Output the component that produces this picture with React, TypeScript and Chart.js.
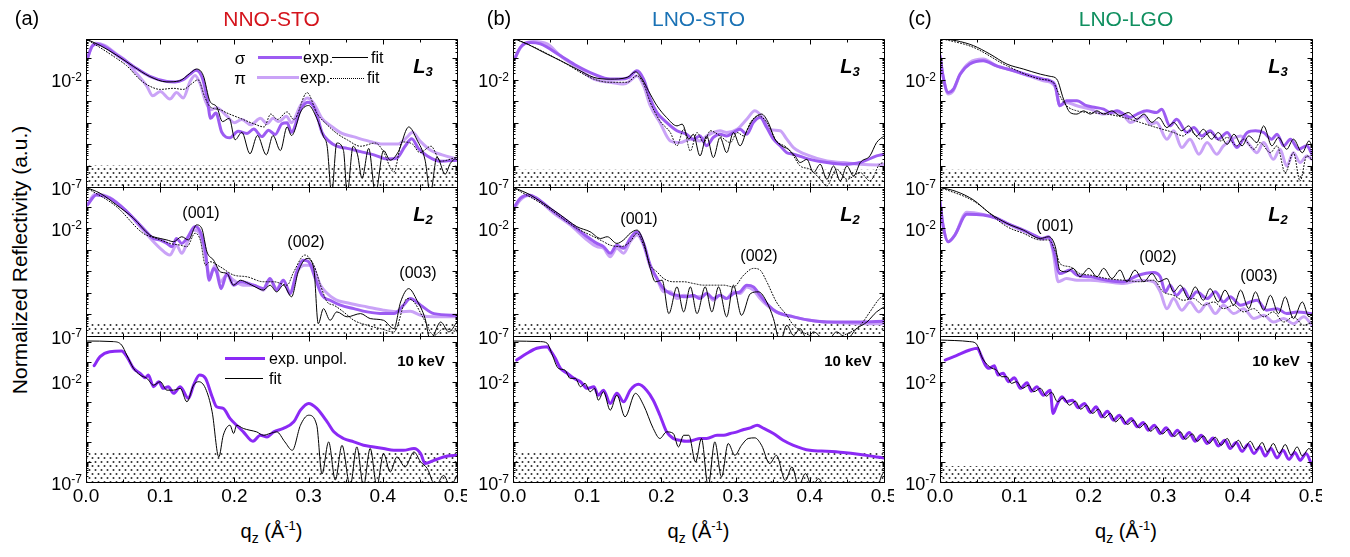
import React, { useEffect, useRef } from "react";
import { Chart, registerables } from "chart.js";

Chart.register(...registerables);

// Each point: [q_z (1/Å), log10(normalized reflectivity)]
type Pt = [number, number];

// ---------------- (a) NNO-STO ----------------
const nnoL3SigmaExp: Pt[] = [[0.002,-1.0],[0.008,-0.45],[0.015,-0.33],[0.025,-0.45],[0.041,-0.83],[0.064,-1.38],[0.086,-1.84],[0.109,-2.08],[0.12,-2.1],[0.131,-2.0],[0.14,-1.75],[0.148,-1.56],[0.156,-1.85],[0.163,-2.8],[0.168,-3.8],[0.175,-3.55],[0.183,-4.45],[0.194,-4.7],[0.205,-4.4],[0.217,-4.5],[0.226,-4.3],[0.237,-4.65],[0.246,-4.35],[0.255,-4.55],[0.264,-4.05],[0.271,-4.0],[0.277,-4.45],[0.289,-3.4],[0.299,-3.05],[0.309,-3.4],[0.318,-4.45],[0.327,-4.85],[0.338,-5.1],[0.352,-5.2],[0.37,-5.35],[0.388,-5.5],[0.406,-5.7],[0.419,-5.65],[0.43,-5.1],[0.439,-4.75],[0.448,-5.2],[0.46,-5.55],[0.478,-5.8],[0.5,-5.75]];
const nnoL3PiExp: Pt[] = [[0.002,-1.0],[0.008,-0.45],[0.013,-0.3],[0.025,-0.4],[0.041,-0.8],[0.055,-1.15],[0.064,-1.55],[0.073,-1.9],[0.082,-2.3],[0.09,-2.75],[0.1,-2.55],[0.113,-2.9],[0.122,-2.6],[0.131,-2.85],[0.14,-2.1],[0.147,-1.8],[0.154,-2.2],[0.161,-3.0],[0.168,-3.4],[0.176,-3.3],[0.19,-3.7],[0.2,-4.0],[0.21,-3.85],[0.222,-4.1],[0.235,-3.8],[0.244,-4.05],[0.252,-3.8],[0.26,-3.95],[0.27,-3.7],[0.277,-4.0],[0.289,-3.2],[0.298,-2.85],[0.307,-3.1],[0.318,-3.8],[0.33,-4.15],[0.345,-4.5],[0.36,-4.65],[0.38,-4.85],[0.4,-5.0],[0.42,-5.0],[0.432,-4.7],[0.44,-4.45],[0.45,-4.85],[0.465,-5.3],[0.48,-5.5],[0.5,-5.7]];
const nnoL3SigmaFit: Pt[] = [[0,-0.1],[0.019,-0.4],[0.041,-0.85],[0.064,-1.38],[0.086,-1.85],[0.109,-2.1],[0.126,-2.05],[0.14,-1.7],[0.149,-1.5],[0.158,-1.8],[0.167,-3.0],[0.176,-3.25],[0.184,-3.95],[0.193,-3.8],[0.201,-4.8],[0.21,-4.45],[0.221,-5.45],[0.231,-4.6],[0.243,-5.5],[0.252,-4.6],[0.262,-5.3],[0.271,-4.2],[0.277,-4.6],[0.29,-3.45],[0.3,-3.2],[0.311,-3.8],[0.32,-4.65],[0.325,-5.1],[0.331,-7.3],[0.338,-4.95],[0.347,-5.3],[0.352,-7.3],[0.36,-5.1],[0.366,-5.5],[0.372,-6.6],[0.381,-5.2],[0.39,-7.3],[0.401,-5.3],[0.41,-5.75],[0.421,-5.35],[0.435,-4.2],[0.446,-4.8],[0.457,-5.75],[0.464,-7.3],[0.473,-5.6],[0.484,-6.4],[0.491,-5.9],[0.5,-5.6]];
const nnoL3PiFit: Pt[] = [[0,-0.1],[0.019,-0.5],[0.041,-1.0],[0.055,-1.35],[0.073,-2.0],[0.086,-2.3],[0.1,-2.45],[0.118,-2.4],[0.131,-2.45],[0.142,-2.2],[0.151,-2.0],[0.16,-2.8],[0.167,-3.25],[0.181,-3.4],[0.19,-3.55],[0.208,-3.8],[0.226,-4.05],[0.24,-4.2],[0.249,-3.6],[0.258,-3.85],[0.271,-3.5],[0.28,-3.85],[0.298,-2.6],[0.311,-3.55],[0.325,-4.1],[0.338,-4.5],[0.352,-4.8],[0.37,-5.1],[0.39,-4.95],[0.4,-5.3],[0.415,-6.3],[0.426,-4.9],[0.44,-5.0],[0.45,-5.4],[0.465,-5.1],[0.478,-5.8],[0.5,-5.6]];

const nnoL2SigmaExp: Pt[] = [[0.002,-0.91],[0.014,-0.45],[0.032,-0.6],[0.055,-1.22],[0.077,-2.0],[0.091,-2.47],[0.1,-2.54],[0.109,-2.7],[0.116,-2.85],[0.122,-2.47],[0.129,-2.7],[0.136,-2.47],[0.147,-1.92],[0.154,-2.16],[0.161,-3.09],[0.166,-4.41],[0.172,-3.86],[0.176,-4.02],[0.182,-4.8],[0.19,-4.1],[0.199,-4.64],[0.208,-4.48],[0.226,-4.64],[0.239,-4.8],[0.248,-4.33],[0.257,-4.87],[0.266,-4.41],[0.275,-5.03],[0.284,-4.02],[0.293,-3.48],[0.3,-3.55],[0.309,-4.33],[0.318,-5.11],[0.329,-5.34],[0.343,-5.57],[0.361,-5.73],[0.379,-5.88],[0.401,-5.96],[0.415,-5.96],[0.428,-5.57],[0.437,-5.26],[0.451,-5.57],[0.469,-5.96],[0.5,-6.04]];
const nnoL2PiExp: Pt[] = [[0.002,-0.91],[0.012,-0.42],[0.032,-0.57],[0.055,-1.22],[0.077,-2.08],[0.1,-2.93],[0.113,-3.24],[0.122,-2.78],[0.129,-3.16],[0.136,-2.7],[0.145,-2.08],[0.154,-2.31],[0.161,-3.32],[0.167,-4.25],[0.174,-3.71],[0.181,-4.48],[0.19,-4.17],[0.199,-4.41],[0.212,-4.64],[0.226,-4.64],[0.239,-4.87],[0.248,-4.41],[0.257,-4.8],[0.266,-4.41],[0.275,-4.95],[0.286,-3.94],[0.295,-3.71],[0.304,-3.71],[0.316,-4.64],[0.334,-5.26],[0.356,-5.49],[0.379,-5.65],[0.401,-5.8],[0.424,-5.88],[0.437,-5.85],[0.451,-6.04],[0.469,-6.11],[0.5,-6.11]];
const nnoL2SigmaFit: Pt[] = [[0,-0.1],[0.019,-0.37],[0.041,-0.91],[0.064,-1.53],[0.086,-2.31],[0.1,-2.47],[0.109,-2.54],[0.118,-2.62],[0.129,-2.39],[0.138,-2.54],[0.149,-1.84],[0.156,-2.0],[0.163,-3.09],[0.172,-3.48],[0.181,-4.02],[0.19,-4.1],[0.199,-4.64],[0.208,-4.41],[0.219,-4.56],[0.228,-4.72],[0.239,-4.87],[0.248,-4.64],[0.257,-4.95],[0.266,-4.64],[0.277,-5.18],[0.286,-4.02],[0.298,-3.4],[0.307,-3.86],[0.313,-6.43],[0.32,-5.73],[0.329,-6.27],[0.338,-5.88],[0.352,-6.11],[0.37,-5.96],[0.383,-6.19],[0.401,-6.27],[0.415,-6.66],[0.424,-5.42],[0.435,-4.8],[0.446,-5.34],[0.457,-6.19],[0.464,-7.2],[0.478,-6.35],[0.489,-6.81],[0.5,-6.35]];
const nnoL2PiFit: Pt[] = [[0,-0.1],[0.041,-0.99],[0.077,-2.23],[0.095,-2.47],[0.113,-2.7],[0.127,-2.78],[0.136,-2.85],[0.147,-2.23],[0.154,-2.54],[0.161,-3.71],[0.167,-3.55],[0.181,-3.79],[0.199,-4.17],[0.217,-4.25],[0.239,-4.48],[0.253,-4.48],[0.271,-4.64],[0.28,-4.02],[0.295,-3.24],[0.307,-3.71],[0.316,-4.64],[0.325,-5.42],[0.334,-5.57],[0.347,-5.88],[0.361,-6.27],[0.379,-6.5],[0.397,-6.66],[0.415,-6.81],[0.433,-5.26],[0.442,-5.42],[0.455,-6.19],[0.469,-6.97],[0.482,-6.66],[0.5,-6.81]];

const nnoHardExp: Pt[] = [[0.011,-1.2],[0.019,-0.75],[0.032,-0.5],[0.048,-0.47],[0.055,-0.75],[0.064,-1.33],[0.073,-1.58],[0.08,-1.8],[0.084,-1.67],[0.091,-2.25],[0.098,-2.0],[0.104,-2.33],[0.111,-2.25],[0.118,-2.58],[0.127,-2.25],[0.138,-2.83],[0.145,-2.17],[0.153,-1.67],[0.161,-1.83],[0.17,-2.75],[0.176,-3.25],[0.185,-3.33],[0.194,-3.83],[0.203,-4.17],[0.212,-4.5],[0.225,-4.97],[0.235,-4.67],[0.244,-4.75],[0.253,-4.5],[0.266,-4.33],[0.28,-4.0],[0.289,-3.42],[0.3,-3.08],[0.311,-3.33],[0.325,-4.0],[0.334,-4.5],[0.347,-4.83],[0.361,-5.0],[0.374,-5.17],[0.388,-5.25],[0.401,-5.33],[0.415,-5.42],[0.428,-5.42],[0.442,-5.33],[0.451,-5.58],[0.457,-6.08],[0.469,-5.92],[0.487,-5.7],[0.5,-5.67]];
const nnoHardFit: Pt[] = [[0,0.03],[0.037,0],[0.048,-0.17],[0.055,-0.67],[0.064,-1.33],[0.073,-1.67],[0.082,-1.83],[0.091,-2.17],[0.1,-2.0],[0.109,-2.42],[0.118,-2.42],[0.127,-2.33],[0.136,-3.0],[0.145,-2.17],[0.152,-2.0],[0.161,-2.33],[0.17,-3.5],[0.179,-5.75],[0.185,-4.67],[0.194,-4.17],[0.199,-4.58],[0.203,-4.17],[0.212,-4.33],[0.221,-4.42],[0.23,-4.5],[0.239,-4.67],[0.248,-4.58],[0.257,-4.5],[0.268,-5.0],[0.278,-5.42],[0.289,-4.17],[0.3,-3.67],[0.311,-4.17],[0.318,-6.6],[0.327,-5.0],[0.336,-6.9],[0.345,-5.17],[0.356,-7.2],[0.365,-5.25],[0.374,-7.2],[0.383,-5.33],[0.392,-7.2],[0.401,-5.58],[0.41,-6.5],[0.419,-5.75],[0.43,-6.25],[0.442,-5.5],[0.451,-6.0],[0.46,-6.33],[0.471,-7.2],[0.482,-6.67],[0.491,-7.2],[0.5,-6.67]];

// ---------------- (b) LNO-STO ----------------
const lnoStoL3SigmaExp: Pt[] = [[0.002,-1.03],[0.01,-0.49],[0.023,-0.26],[0.037,-0.33],[0.064,-0.88],[0.086,-1.35],[0.109,-1.74],[0.131,-1.97],[0.145,-1.97],[0.156,-1.89],[0.167,-1.58],[0.176,-1.97],[0.185,-2.9],[0.194,-3.53],[0.207,-3.99],[0.221,-4.38],[0.234,-4.54],[0.243,-4.77],[0.252,-4.62],[0.261,-5.08],[0.27,-4.69],[0.279,-4.54],[0.288,-4.62],[0.297,-4.46],[0.306,-4.31],[0.315,-4.54],[0.324,-3.99],[0.333,-3.76],[0.342,-4.23],[0.351,-4.77],[0.36,-5.08],[0.369,-5.4],[0.378,-5.47],[0.4,-5.71],[0.423,-5.86],[0.445,-5.94],[0.468,-5.86],[0.49,-5.55],[0.5,-5.47]];
const lnoStoL3PiExp: Pt[] = [[0.002,-1.03],[0.014,-0.33],[0.028,-0.22],[0.046,-0.33],[0.064,-0.88],[0.086,-1.42],[0.109,-1.97],[0.131,-2.12],[0.149,-2.2],[0.158,-2.05],[0.167,-1.81],[0.176,-2.28],[0.185,-3.21],[0.198,-3.99],[0.212,-4.85],[0.225,-4.93],[0.239,-4.77],[0.252,-4.85],[0.261,-4.62],[0.27,-4.46],[0.279,-4.38],[0.288,-4.46],[0.302,-4.31],[0.315,-3.84],[0.326,-3.45],[0.338,-3.84],[0.346,-4.31],[0.36,-4.38],[0.369,-4.77],[0.378,-5.16],[0.4,-5.55],[0.423,-5.79],[0.445,-5.86],[0.468,-5.94],[0.49,-5.97],[0.5,-5.94]];
const lnoStoL3SigmaFit: Pt[] = [[0,-0.07],[0.019,-0.33],[0.041,-0.72],[0.064,-1.11],[0.086,-1.5],[0.109,-1.89],[0.131,-1.97],[0.154,-1.89],[0.165,-1.63],[0.174,-1.97],[0.185,-2.67],[0.194,-3.21],[0.207,-3.76],[0.221,-4.15],[0.228,-4.07],[0.237,-4.77],[0.243,-4.54],[0.252,-5.55],[0.261,-4.62],[0.27,-5.63],[0.279,-4.69],[0.288,-5.4],[0.297,-4.46],[0.306,-5.08],[0.315,-4.38],[0.324,-3.84],[0.335,-3.6],[0.344,-3.99],[0.353,-4.77],[0.362,-5.08],[0.371,-5.24],[0.38,-5.55],[0.387,-5.86],[0.396,-5.71],[0.405,-6.33],[0.414,-5.94],[0.423,-6.64],[0.432,-6.02],[0.441,-6.72],[0.45,-6.02],[0.459,-6.49],[0.468,-5.86],[0.481,-5.55],[0.49,-4.93],[0.5,-4.62]];
const lnoStoL3PiFit: Pt[] = [[0,-0.07],[0.019,-0.33],[0.064,-1.11],[0.109,-1.97],[0.131,-2.12],[0.154,-2.12],[0.167,-1.81],[0.176,-2.2],[0.185,-3.06],[0.198,-3.92],[0.212,-4.46],[0.221,-5.08],[0.23,-4.31],[0.239,-5.32],[0.248,-4.46],[0.257,-4.93],[0.266,-4.38],[0.279,-4.62],[0.293,-4.93],[0.302,-4.46],[0.311,-4.62],[0.32,-3.99],[0.331,-3.68],[0.342,-3.99],[0.355,-4.85],[0.369,-5.16],[0.378,-5.55],[0.387,-6.02],[0.4,-6.17],[0.414,-6.64],[0.423,-6.95],[0.436,-6.17],[0.45,-6.64],[0.468,-6.33],[0.481,-6.72],[0.494,-5.94],[0.5,-5.86]];

const lnoStoL2SigmaExp: Pt[] = [[0.002,-0.99],[0.01,-0.6],[0.021,-0.45],[0.032,-0.6],[0.055,-1.22],[0.077,-1.77],[0.1,-2.39],[0.113,-2.7],[0.122,-2.85],[0.131,-3.16],[0.14,-2.78],[0.149,-2.93],[0.158,-2.47],[0.167,-2.16],[0.176,-2.7],[0.185,-3.71],[0.194,-4.33],[0.203,-4.8],[0.212,-5.03],[0.221,-5.11],[0.234,-5.18],[0.243,-5.11],[0.252,-5.26],[0.261,-5.03],[0.27,-5.26],[0.279,-5.11],[0.288,-5.26],[0.297,-5.03],[0.306,-4.95],[0.315,-4.64],[0.324,-4.72],[0.333,-5.11],[0.342,-5.49],[0.355,-5.88],[0.378,-6.11],[0.4,-6.27],[0.423,-6.35],[0.445,-6.35],[0.468,-6.35],[0.5,-6.32]];
const lnoStoL2PiExp: Pt[] = [[0.002,-1.07],[0.01,-0.68],[0.021,-0.48],[0.032,-0.63],[0.055,-1.3],[0.077,-1.84],[0.1,-2.54],[0.113,-2.85],[0.122,-2.93],[0.131,-3.32],[0.14,-2.93],[0.149,-3.16],[0.158,-2.62],[0.167,-2.31],[0.176,-2.78],[0.185,-3.79],[0.194,-4.33],[0.203,-4.95],[0.212,-4.95],[0.221,-5.26],[0.23,-5.11],[0.243,-5.18],[0.252,-5.18],[0.261,-5.03],[0.27,-5.34],[0.279,-5.11],[0.288,-5.26],[0.297,-4.95],[0.306,-5.03],[0.315,-4.72],[0.324,-4.87],[0.333,-5.26],[0.342,-5.57],[0.355,-5.88],[0.378,-6.11],[0.4,-6.27],[0.423,-6.35],[0.445,-6.38],[0.468,-6.43],[0.5,-6.43]];
const lnoStoL2SigmaFit: Pt[] = [[0,-0.1],[0.019,-0.37],[0.041,-0.84],[0.064,-1.38],[0.086,-1.92],[0.104,-2.16],[0.118,-2.47],[0.127,-2.39],[0.14,-2.7],[0.149,-2.54],[0.158,-2.23],[0.167,-2.08],[0.176,-2.62],[0.185,-3.86],[0.192,-4.48],[0.201,-4.41],[0.21,-5.96],[0.221,-4.72],[0.23,-5.88],[0.239,-4.72],[0.248,-5.96],[0.259,-4.72],[0.268,-5.88],[0.277,-4.72],[0.288,-6.11],[0.297,-4.64],[0.308,-6.04],[0.32,-5.03],[0.331,-4.95],[0.342,-5.42],[0.351,-6.19],[0.36,-7.28],[0.369,-6.5],[0.378,-6.97],[0.387,-6.66],[0.396,-7.12],[0.405,-6.81],[0.423,-7.28],[0.436,-6.81],[0.45,-7.12],[0.463,-6.66],[0.477,-6.35],[0.49,-5.88],[0.5,-5.65]];
const lnoStoL2PiFit: Pt[] = [[0,-0.1],[0.041,-0.91],[0.086,-2.0],[0.109,-2.39],[0.122,-2.62],[0.131,-2.78],[0.145,-2.85],[0.158,-2.62],[0.167,-2.23],[0.176,-2.78],[0.185,-3.71],[0.194,-4.02],[0.203,-4.33],[0.216,-4.48],[0.23,-4.48],[0.243,-4.56],[0.257,-4.64],[0.27,-4.64],[0.284,-4.64],[0.297,-4.72],[0.311,-4.17],[0.324,-3.86],[0.333,-3.94],[0.342,-4.48],[0.355,-5.42],[0.369,-6.04],[0.378,-6.5],[0.4,-6.97],[0.423,-7.12],[0.445,-6.97],[0.468,-6.5],[0.481,-5.88],[0.494,-5.26],[0.5,-5.11]];

const lnoStoHardExp: Pt[] = [[0.005,-0.92],[0.019,-0.58],[0.032,-0.33],[0.046,-0.25],[0.05,-0.42],[0.057,-0.83],[0.064,-1.33],[0.073,-1.58],[0.082,-1.83],[0.091,-2.0],[0.1,-2.33],[0.109,-2.25],[0.115,-2.67],[0.122,-2.42],[0.131,-3.08],[0.14,-2.58],[0.149,-3.0],[0.158,-2.42],[0.169,-2.13],[0.18,-2.42],[0.189,-2.92],[0.198,-3.67],[0.207,-4.5],[0.216,-4.83],[0.225,-4.92],[0.234,-4.97],[0.243,-4.92],[0.252,-4.83],[0.261,-4.83],[0.275,-4.67],[0.284,-4.67],[0.293,-4.58],[0.302,-4.5],[0.311,-4.38],[0.32,-4.3],[0.329,-4.17],[0.338,-4.33],[0.351,-4.58],[0.364,-4.92],[0.378,-5.17],[0.4,-5.42],[0.423,-5.47],[0.445,-5.53],[0.468,-5.63],[0.49,-5.75],[0.5,-5.8]];
const lnoStoHardFit: Pt[] = [[0,0.03],[0.037,0],[0.046,-0.08],[0.053,-0.67],[0.061,-1.33],[0.07,-1.42],[0.077,-1.83],[0.084,-1.83],[0.091,-2.25],[0.097,-2.08],[0.104,-2.5],[0.11,-2.33],[0.115,-2.92],[0.122,-2.5],[0.131,-3.42],[0.14,-2.67],[0.151,-3.75],[0.165,-2.58],[0.176,-3.17],[0.189,-4.33],[0.198,-4.83],[0.207,-4.5],[0.216,-4.58],[0.223,-5.25],[0.23,-4.67],[0.237,-4.67],[0.246,-6.0],[0.254,-4.83],[0.263,-7.2],[0.272,-5.0],[0.281,-6.75],[0.29,-5.08],[0.299,-5.67],[0.308,-5.17],[0.317,-4.83],[0.326,-4.8],[0.335,-5.17],[0.346,-6.08],[0.355,-5.67],[0.367,-6.92],[0.376,-6.25],[0.385,-7.2],[0.394,-6.58],[0.403,-7.2],[0.412,-6.83],[0.421,-7.3],[0.49,-7.3],[0.497,-6.67],[0.5,-6.5]];

// ---------------- (c) LNO-LGO ----------------
const lnoLgoL3SigmaExp: Pt[] = [[0,-0.88],[0.004,-1.81],[0.011,-2.59],[0.018,-2.44],[0.027,-1.74],[0.04,-1.27],[0.058,-1.11],[0.076,-1.35],[0.099,-1.58],[0.121,-1.81],[0.139,-1.97],[0.148,-2.05],[0.155,-2.28],[0.161,-3.21],[0.17,-2.98],[0.184,-2.98],[0.197,-3.21],[0.209,-3.29],[0.22,-3.37],[0.229,-3.53],[0.238,-3.45],[0.247,-3.6],[0.256,-3.76],[0.265,-3.6],[0.278,-3.45],[0.291,-3.53],[0.298,-3.37],[0.309,-4.15],[0.318,-3.84],[0.332,-4.46],[0.341,-4.23],[0.352,-4.62],[0.363,-4.38],[0.374,-4.77],[0.386,-4.46],[0.399,-5.16],[0.413,-4.46],[0.424,-4.38],[0.435,-4.46],[0.446,-4.77],[0.453,-4.54],[0.462,-5.08],[0.471,-4.77],[0.482,-5.24],[0.493,-5.08],[0.5,-5.47]];
const lnoLgoL3PiExp: Pt[] = [[0,-0.88],[0.004,-1.81],[0.011,-2.67],[0.018,-2.51],[0.027,-1.74],[0.04,-1.19],[0.058,-1.03],[0.076,-1.35],[0.099,-1.58],[0.121,-1.84],[0.139,-2.05],[0.148,-2.12],[0.155,-2.36],[0.161,-3.21],[0.17,-3.06],[0.184,-3.21],[0.202,-3.37],[0.22,-3.6],[0.238,-3.53],[0.247,-3.68],[0.256,-3.99],[0.265,-3.84],[0.274,-3.68],[0.283,-4.07],[0.291,-3.99],[0.305,-4.77],[0.314,-4.38],[0.325,-5.16],[0.336,-4.77],[0.348,-5.47],[0.359,-4.93],[0.372,-5.47],[0.381,-5.08],[0.404,-4.62],[0.417,-5.08],[0.426,-5.4],[0.435,-4.93],[0.448,-5.71],[0.457,-5.24],[0.466,-6.02],[0.475,-5.4],[0.484,-5.86],[0.493,-5.55],[0.5,-5.71]];
const lnoLgoL3SigmaFit: Pt[] = [[0,-0.07],[0.022,-0.18],[0.045,-0.41],[0.067,-0.8],[0.09,-1.27],[0.112,-1.5],[0.135,-1.74],[0.148,-1.84],[0.157,-1.97],[0.166,-2.9],[0.175,-3.53],[0.184,-3.6],[0.193,-3.45],[0.202,-3.6],[0.211,-3.45],[0.22,-3.6],[0.231,-3.45],[0.242,-3.68],[0.253,-3.53],[0.265,-3.84],[0.274,-3.6],[0.285,-3.99],[0.294,-3.76],[0.305,-4.23],[0.314,-3.99],[0.325,-4.38],[0.334,-4.15],[0.345,-4.62],[0.354,-4.31],[0.365,-4.77],[0.374,-4.46],[0.386,-5.01],[0.395,-4.54],[0.406,-5.08],[0.415,-4.62],[0.426,-4.93],[0.435,-4.15],[0.446,-5.08],[0.455,-4.69],[0.466,-5.24],[0.475,-4.77],[0.487,-5.4],[0.496,-4.85],[0.5,-5.08]];
const lnoLgoL3PiFit: Pt[] = [[0,-0.07],[0.045,-0.49],[0.09,-1.35],[0.135,-1.97],[0.152,-2.12],[0.161,-2.75],[0.17,-3.21],[0.184,-3.45],[0.202,-3.53],[0.224,-3.6],[0.247,-3.76],[0.269,-3.99],[0.291,-4.23],[0.314,-4.46],[0.327,-4.62],[0.336,-4.38],[0.35,-4.77],[0.363,-4.46],[0.377,-4.85],[0.386,-4.69],[0.399,-5.08],[0.408,-4.77],[0.422,-5.24],[0.43,-4.93],[0.444,-5.4],[0.453,-5.08],[0.464,-6.33],[0.475,-5.4],[0.484,-6.72],[0.493,-5.55],[0.5,-5.71]];

const lnoLgoL2SigmaExp: Pt[] = [[0,-0.76],[0.004,-1.84],[0.011,-2.62],[0.02,-2.31],[0.036,-1.35],[0.058,-1.38],[0.076,-1.53],[0.09,-1.77],[0.112,-2.08],[0.126,-2.31],[0.137,-2.47],[0.146,-2.39],[0.152,-2.93],[0.161,-4.1],[0.175,-3.94],[0.184,-4.17],[0.202,-4.25],[0.224,-4.41],[0.247,-4.48],[0.265,-4.2],[0.287,-4.05],[0.296,-4.25],[0.303,-4.95],[0.309,-4.64],[0.318,-5.11],[0.327,-4.8],[0.336,-5.26],[0.345,-4.95],[0.359,-5.26],[0.37,-4.95],[0.381,-5.42],[0.39,-5.18],[0.404,-5.57],[0.417,-5.42],[0.426,-5.34],[0.439,-5.8],[0.453,-5.73],[0.466,-5.96],[0.48,-5.88],[0.5,-5.96]];
const lnoLgoL2PiExp: Pt[] = [[0,-0.76],[0.004,-1.84],[0.011,-2.62],[0.02,-2.31],[0.036,-1.25],[0.058,-1.35],[0.076,-1.53],[0.09,-1.77],[0.112,-2.12],[0.126,-2.31],[0.137,-2.5],[0.146,-2.44],[0.152,-3.09],[0.159,-4.48],[0.17,-4.33],[0.184,-4.41],[0.202,-4.41],[0.224,-4.48],[0.247,-4.56],[0.269,-4.41],[0.287,-4.48],[0.296,-4.95],[0.305,-5.73],[0.314,-5.26],[0.325,-5.8],[0.336,-5.42],[0.348,-5.88],[0.359,-5.49],[0.37,-5.96],[0.381,-5.57],[0.395,-5.96],[0.408,-5.73],[0.422,-6.19],[0.435,-6.04],[0.448,-6.35],[0.462,-6.19],[0.475,-6.43],[0.489,-6.11],[0.5,-6.5]];
const lnoLgoL2SigmaFit: Pt[] = [[0,-0.1],[0.022,-0.29],[0.045,-0.68],[0.067,-1.3],[0.09,-1.77],[0.112,-2.08],[0.135,-2.47],[0.146,-2.39],[0.155,-2.85],[0.161,-3.94],[0.17,-4.02],[0.179,-3.86],[0.188,-4.25],[0.2,-3.86],[0.211,-4.25],[0.22,-3.86],[0.231,-4.33],[0.242,-3.94],[0.251,-4.48],[0.262,-3.94],[0.274,-4.48],[0.285,-4.1],[0.294,-4.48],[0.305,-4.33],[0.314,-4.95],[0.323,-4.64],[0.334,-5.26],[0.343,-4.72],[0.354,-5.34],[0.363,-4.8],[0.374,-5.42],[0.383,-4.87],[0.395,-5.57],[0.404,-4.87],[0.415,-5.73],[0.424,-4.95],[0.435,-5.8],[0.444,-5.11],[0.455,-5.96],[0.464,-5.18],[0.475,-6.19],[0.487,-5.42],[0.496,-6.11],[0.5,-5.96]];
const lnoLgoL2PiFit: Pt[] = [[0,-0.1],[0.045,-0.73],[0.09,-1.92],[0.112,-2.23],[0.135,-2.54],[0.146,-2.54],[0.157,-3.24],[0.161,-3.63],[0.175,-3.79],[0.188,-4.1],[0.202,-4.17],[0.224,-4.33],[0.247,-4.41],[0.269,-4.48],[0.287,-4.41],[0.3,-4.95],[0.314,-5.11],[0.327,-5.34],[0.341,-5.26],[0.354,-5.57],[0.368,-5.42],[0.381,-5.73],[0.395,-5.57],[0.408,-5.88],[0.422,-5.73],[0.435,-6.11],[0.448,-5.88],[0.462,-6.35],[0.475,-6.11],[0.489,-6.5],[0.5,-6.35]];

const lnoLgoHardExp: Pt[] = [[0.007,-0.92],[0.022,-0.7],[0.04,-0.42],[0.05,-0.33],[0.055,-0.67],[0.061,-1.17],[0.066,-1.33],[0.073,-1.2],[0.078,-1.67],[0.085,-1.58],[0.092,-2.0],[0.1,-1.8],[0.108,-2.33],[0.117,-2.05],[0.123,-2.47],[0.13,-2.25],[0.139,-2.67],[0.148,-2.42],[0.152,-3.58],[0.157,-3.17],[0.164,-2.75],[0.17,-3.0],[0.178,-2.92],[0.186,-3.3],[0.194,-3.08],[0.202,-3.53],[0.21,-3.25],[0.217,-3.75],[0.225,-3.47],[0.233,-3.92],[0.241,-3.67],[0.249,-4.08],[0.257,-3.83],[0.265,-4.25],[0.273,-4.03],[0.28,-4.42],[0.288,-4.17],[0.296,-4.58],[0.304,-4.3],[0.312,-4.7],[0.319,-4.42],[0.327,-4.83],[0.335,-4.53],[0.343,-4.97],[0.351,-4.67],[0.359,-5.08],[0.367,-4.8],[0.374,-5.2],[0.383,-4.92],[0.39,-5.33],[0.398,-5.03],[0.406,-5.47],[0.414,-5.13],[0.422,-5.58],[0.43,-5.25],[0.437,-5.7],[0.445,-5.33],[0.453,-5.8],[0.461,-5.42],[0.469,-5.87],[0.477,-5.53],[0.484,-5.92],[0.492,-5.58],[0.499,-6.08]];
const lnoLgoHardFit: Pt[] = [[0,0.08],[0.04,0],[0.048,-0.08],[0.052,-0.33],[0.056,-0.75],[0.063,-1.13],[0.07,-1.33],[0.076,-1.42],[0.083,-1.75],[0.09,-1.75],[0.096,-2.08],[0.103,-2.0],[0.111,-2.33],[0.119,-2.17],[0.126,-2.5],[0.135,-2.33],[0.143,-2.72],[0.15,-2.53],[0.158,-3.0],[0.166,-2.8],[0.174,-3.17],[0.182,-2.97],[0.189,-3.37],[0.197,-3.17],[0.205,-3.58],[0.213,-3.37],[0.221,-3.8],[0.229,-3.58],[0.236,-4.0],[0.244,-3.75],[0.252,-4.13],[0.26,-3.92],[0.268,-4.3],[0.276,-4.08],[0.283,-4.47],[0.291,-4.25],[0.299,-4.6],[0.307,-4.37],[0.315,-4.73],[0.323,-4.5],[0.33,-4.87],[0.339,-4.6],[0.346,-4.97],[0.354,-4.7],[0.362,-5.07],[0.37,-4.77],[0.378,-5.17],[0.386,-4.83],[0.393,-5.25],[0.401,-4.92],[0.409,-5.33],[0.417,-4.97],[0.425,-5.4],[0.433,-5.03],[0.44,-5.5],[0.448,-5.08],[0.456,-5.58],[0.464,-5.13],[0.472,-5.67],[0.48,-5.25],[0.487,-5.7],[0.496,-5.33],[0.5,-5.5]];

// ---------------- axes / levels ----------------
const Q_MAJOR_TICKS = [0, 0.1, 0.2, 0.3, 0.4, 0.5];
const Q_MINOR_TICKS = [0.05, 0.15, 0.25, 0.35, 0.45];
const Q_TICK_LABELS = ["0.0", "0.1", "0.2", "0.3", "0.4", "0.5"];
const Y_LABEL_EXPONENTS = [-2, -7];
const Y_MIN_EXP = -7;
const ROW_MAX_EXP = [-0.1, -0.08, 0.28];
// upper edge (log10) of the dotted noise-floor band, per row
const NNO_NOISE_FLOOR = [-6.0, -6.4, -5.5];
const LNO_STO_NOISE_FLOOR = [-6.2, -6.4, -5.5];
const LNO_LGO_NOISE_FLOOR = [-6.2, -6.4, -6.2];

const SIGMA_COLOR = "#9d5cf2";
const PI_COLOR = "#caa3f7";
const UNPOL_COLOR = "#8b2af5";
const FONT = '"Liberation Sans", Arial, Helvetica, sans-serif';

const COL_LEFT = [86, 513, 940];
const COL_RIGHT = [457, 884, 1312];
const ROW_TOP = [39, 187, 336];
const ROW_BOTTOM = [187, 336, 482];

type Kind = "sigmaExp" | "piExp" | "sigmaFit" | "piFit" | "unpolExp" | "unpolFit";
interface Series { kind: Kind; data: Pt[] }
interface PanelSpec { col: number; row: number; floor: number; series: Series[] }

const PANELS: PanelSpec[] = [
  { col: 0, row: 0, floor: NNO_NOISE_FLOOR[0], series: [
    { kind: "piExp", data: nnoL3PiExp }, { kind: "sigmaExp", data: nnoL3SigmaExp },
    { kind: "piFit", data: nnoL3PiFit }, { kind: "sigmaFit", data: nnoL3SigmaFit }] },
  { col: 0, row: 1, floor: NNO_NOISE_FLOOR[1], series: [
    { kind: "piExp", data: nnoL2PiExp }, { kind: "sigmaExp", data: nnoL2SigmaExp },
    { kind: "piFit", data: nnoL2PiFit }, { kind: "sigmaFit", data: nnoL2SigmaFit }] },
  { col: 0, row: 2, floor: NNO_NOISE_FLOOR[2], series: [
    { kind: "unpolExp", data: nnoHardExp }, { kind: "unpolFit", data: nnoHardFit }] },
  { col: 1, row: 0, floor: LNO_STO_NOISE_FLOOR[0], series: [
    { kind: "piExp", data: lnoStoL3PiExp }, { kind: "sigmaExp", data: lnoStoL3SigmaExp },
    { kind: "piFit", data: lnoStoL3PiFit }, { kind: "sigmaFit", data: lnoStoL3SigmaFit }] },
  { col: 1, row: 1, floor: LNO_STO_NOISE_FLOOR[1], series: [
    { kind: "piExp", data: lnoStoL2PiExp }, { kind: "sigmaExp", data: lnoStoL2SigmaExp },
    { kind: "piFit", data: lnoStoL2PiFit }, { kind: "sigmaFit", data: lnoStoL2SigmaFit }] },
  { col: 1, row: 2, floor: LNO_STO_NOISE_FLOOR[2], series: [
    { kind: "unpolExp", data: lnoStoHardExp }, { kind: "unpolFit", data: lnoStoHardFit }] },
  { col: 2, row: 0, floor: LNO_LGO_NOISE_FLOOR[0], series: [
    { kind: "piExp", data: lnoLgoL3PiExp }, { kind: "sigmaExp", data: lnoLgoL3SigmaExp },
    { kind: "piFit", data: lnoLgoL3PiFit }, { kind: "sigmaFit", data: lnoLgoL3SigmaFit }] },
  { col: 2, row: 1, floor: LNO_LGO_NOISE_FLOOR[1], series: [
    { kind: "piExp", data: lnoLgoL2PiExp }, { kind: "sigmaExp", data: lnoLgoL2SigmaExp },
    { kind: "piFit", data: lnoLgoL2PiFit }, { kind: "sigmaFit", data: lnoLgoL2SigmaFit }] },
  { col: 2, row: 2, floor: LNO_LGO_NOISE_FLOOR[2], series: [
    { kind: "unpolExp", data: lnoLgoHardExp }, { kind: "unpolFit", data: lnoLgoHardFit }] },
];

const STYLE: Record<Kind, { color: string; width: number; dash: number[]; order: number }> = {
  piExp: { color: PI_COLOR, width: 3, dash: [], order: 5 },
  sigmaExp: { color: SIGMA_COLOR, width: 3, dash: [], order: 4 },
  unpolExp: { color: UNPOL_COLOR, width: 3, dash: [], order: 4 },
  piFit: { color: "#000000", width: 1, dash: [1, 2], order: 2 },
  sigmaFit: { color: "#000000", width: 1, dash: [], order: 1 },
  unpolFit: { color: "#000000", width: 1, dash: [], order: 1 },
};

function makeDotPattern(): CanvasPattern | string {
  const c = document.createElement("canvas");
  c.width = 6;
  c.height = 8;
  const g = c.getContext("2d");
  if (!g) return "rgba(0,0,0,0.3)";
  g.fillStyle = "#2e2e2e";
  g.beginPath();
  g.arc(1.5, 2, 1.0, 0, Math.PI * 2);
  g.fill();
  g.beginPath();
  g.arc(4.5, 6, 1.0, 0, Math.PI * 2);
  g.fill();
  return g.createPattern(c, "repeat") || "rgba(0,0,0,0.3)";
}

function makeAxesPlugin(showX: boolean) {
  return {
    id: "axesFrame",
    afterDatasetsDraw(chart: any) {
      const { ctx, chartArea: a, scales } = chart;
      const xs = scales.x;
      const ys = scales.y;
      const l = Math.round(a.left) + 0.5;
      const r = Math.round(a.right) + 0.5;
      const t = Math.round(a.top) + 0.5;
      const b = Math.round(a.bottom) + 0.5;
      ctx.save();
      ctx.strokeStyle = "#000";
      ctx.lineWidth = 1;
      ctx.setLineDash([]);
      ctx.beginPath();
      ctx.rect(l, t, r - l, b - t);
      const xTick = (q: number, len: number) => {
        const px = Math.round(xs.getPixelForValue(q)) + 0.5;
        ctx.moveTo(px, b); ctx.lineTo(px, b - len);
        ctx.moveTo(px, t); ctx.lineTo(px, t + len);
      };
      Q_MAJOR_TICKS.forEach((q) => xTick(q, 5));
      Q_MINOR_TICKS.forEach((q) => xTick(q, 3));
      const maxV = ys.max;
      const yTick = (v: number, len: number) => {
        const py = Math.round(ys.getPixelForValue(v)) + 0.5;
        ctx.moveTo(l, py); ctx.lineTo(l + len, py);
        ctx.moveTo(r, py); ctx.lineTo(r - len, py);
      };
      for (let e = Y_MIN_EXP; Math.pow(10, e) <= maxV; e++) {
        yTick(Math.pow(10, e), 5);
        for (let m = 2; m <= 9; m++) {
          const v = m * Math.pow(10, e);
          if (v < maxV) yTick(v, 2);
        }
      }
      ctx.stroke();

      ctx.fillStyle = "#000";
      for (const e of Y_LABEL_EXPONENTS) {
        const py = ys.getPixelForValue(Math.pow(10, e));
        const sup = String(e);
        ctx.font = `12px ${FONT}`;
        const sw = ctx.measureText(sup).width;
        const xEnd = a.left - 4;
        ctx.textAlign = "left";
        ctx.textBaseline = "alphabetic";
        ctx.fillText(sup, xEnd - sw, py + 1);
        ctx.font = `18px ${FONT}`;
        ctx.textAlign = "right";
        ctx.fillText("10", xEnd - sw, py + 7.5);
      }
      if (showX) {
        ctx.font = `19px ${FONT}`;
        ctx.textAlign = "center";
        ctx.textBaseline = "middle";
        Q_MAJOR_TICKS.forEach((q, i) => {
          ctx.fillText(Q_TICK_LABELS[i], xs.getPixelForValue(q), a.bottom + 15);
        });
      }
      ctx.restore();
    },
  };
}

function Panel({ spec }: { spec: PanelSpec }) {
  const ref = useRef<HTMLCanvasElement | null>(null);
  const L = COL_LEFT[spec.col];
  const R = COL_RIGHT[spec.col];
  const T = ROW_TOP[spec.row];
  const B = ROW_BOTTOM[spec.row];
  const bottomRow = spec.row === 2;
  const padL = 52, padR = 10, padT = 12, padB = bottomRow ? 34 : 12;
  const w = R - L + padL + padR;
  const h = B - T + padT + padB;

  useEffect(() => {
    const canvas = ref.current;
    if (!canvas) return;
    const toXY = (arr: Pt[]) => arr.map(([q, lg]) => ({ x: q, y: Math.pow(10, lg) }));
    const floorV = Math.pow(10, spec.floor);
    const datasets: any[] = [
      {
        data: [{ x: 0, y: floorV }, { x: 0.5, y: floorV }],
        fill: "start",
        backgroundColor: makeDotPattern(),
        borderWidth: 0,
        borderColor: "rgba(0,0,0,0)",
        pointRadius: 0,
        order: 10,
      },
      ...spec.series.map((s) => ({
        data: toXY(s.data),
        borderColor: STYLE[s.kind].color,
        borderWidth: STYLE[s.kind].width,
        borderDash: STYLE[s.kind].dash,
        order: STYLE[s.kind].order,
        fill: false,
        pointRadius: 0,
        cubicInterpolationMode: "monotone",
        borderJoinStyle: "round",
        borderCapStyle: "round",
      })),
    ];
    const chart = new Chart(canvas, {
      type: "line",
      data: { datasets },
      options: {
        responsive: false,
        animation: false,
        devicePixelRatio: 1,
        layout: { padding: { left: padL, right: padR, top: padT, bottom: padB } },
        plugins: { legend: { display: false }, tooltip: { enabled: false } },
        events: [],
        scales: {
          x: { type: "linear", min: 0, max: 0.5, display: false },
          y: { type: "logarithmic", min: Math.pow(10, Y_MIN_EXP), max: Math.pow(10, ROW_MAX_EXP[spec.row]), display: false },
        },
      } as any,
      plugins: [makeAxesPlugin(bottomRow)],
    });
    return () => chart.destroy();
  }, []);

  return (
    <canvas
      ref={ref}
      width={w}
      height={h}
      style={{ position: "absolute", left: L - padL, top: T - padT, width: w, height: h }}
    />
  );
}

function Txt(props: {
  x: number; y: number; size: number; children: any; anchor?: "left" | "center" | "right";
  bold?: boolean; italic?: boolean; color?: string; rotate?: number;
}) {
  const { x, y, size, children, anchor = "center", bold, italic, color = "#000", rotate } = props;
  const tx = anchor === "center" ? "-50%" : anchor === "right" ? "-100%" : "0";
  return (
    <div
      style={{
        position: "absolute",
        left: x,
        top: y,
        transform: `translate(${tx}, -50%)${rotate ? ` rotate(${rotate}deg)` : ""}`,
        fontFamily: FONT,
        fontSize: size,
        lineHeight: 1,
        whiteSpace: "nowrap",
        color,
        fontWeight: bold ? "bold" : "normal",
        fontStyle: italic ? "italic" : "normal",
      }}
    >
      {children}
    </div>
  );
}

const PANEL_LETTERS = ["(a)", "(b)", "(c)"];
const PANEL_LETTER_X = [27, 499, 920];
const TITLES = ["NNO-STO", "LNO-STO", "LNO-LGO"];
const TITLE_COLORS = ["#d4141c", "#1a72b5", "#0f8f5f"];
const PEAK_LABELS: { x: number; y: number; text: string }[] = [
  { x: 201, y: 213, text: "(001)" },
  { x: 306, y: 242, text: "(002)" },
  { x: 418, y: 273, text: "(003)" },
  { x: 639, y: 219, text: "(001)" },
  { x: 759, y: 256, text: "(002)" },
  { x: 1055, y: 226, text: "(001)" },
  { x: 1158, y: 257, text: "(002)" },
  { x: 1259, y: 276, text: "(003)" },
];

function Edge({ subscript }: { subscript: string }) {
  return (
    <span>
      L<span style={{ fontSize: 13, verticalAlign: "-0.3em" }}>{subscript}</span>
    </span>
  );
}

export default function App() {
  return (
    <div style={{ position: "absolute", left: 0, top: 0, width: 1350, height: 557, background: "#fff", overflow: "hidden" }}>
      {PANELS.map((p, i) => (
        <Panel key={i} spec={p} />
      ))}

      {[0, 1, 2].map((c) => (
        <React.Fragment key={c}>
          <Txt x={PANEL_LETTER_X[c]} y={18} size={20}>{PANEL_LETTERS[c]}</Txt>
          <Txt x={(COL_LEFT[c] + COL_RIGHT[c]) / 2} y={18} size={21} color={TITLE_COLORS[c]}>{TITLES[c]}</Txt>
          <Txt x={COL_RIGHT[c] - 34} y={67} size={20} bold italic><Edge subscript="3" /></Txt>
          <Txt x={COL_RIGHT[c] - 34} y={215} size={20} bold italic><Edge subscript="2" /></Txt>
          <Txt x={COL_RIGHT[c] - 36} y={360} size={15} bold>10 keV</Txt>
          <Txt x={(COL_LEFT[c] + COL_RIGHT[c]) / 2} y={532} size={20}>
            q<span style={{ fontSize: 14, verticalAlign: "-0.35em" }}>z</span> (Å<span style={{ fontSize: 13, verticalAlign: "0.55em" }}>-1</span>)
          </Txt>
        </React.Fragment>
      ))}

      {PEAK_LABELS.map((pl, i) => (
        <Txt key={i} x={pl.x} y={pl.y} size={16}>{pl.text}</Txt>
      ))}

      <Txt x={19} y={260} size={21} rotate={-90}>Normalized Reflectivity (a.u.)</Txt>

      {/* legend, panel (a) L3 */}
      <Txt x={240} y={58} size={17}>σ</Txt>
      <div style={{ position: "absolute", left: 258, top: 56, width: 44, height: 3, background: SIGMA_COLOR }} />
      <Txt x={303} y={58} size={16} anchor="left">exp.</Txt>
      <div style={{ position: "absolute", left: 332, top: 57, width: 36, height: 1, background: "#000" }} />
      <Txt x={371} y={58} size={16} anchor="left">fit</Txt>
      <Txt x={240} y={78} size={17}>π</Txt>
      <div style={{ position: "absolute", left: 257, top: 76, width: 42, height: 3, background: PI_COLOR }} />
      <Txt x={300} y={78} size={16} anchor="left">exp.</Txt>
      <div style={{ position: "absolute", left: 330, top: 78, width: 34, height: 0, borderTop: "1px dotted #000" }} />
      <Txt x={367} y={78} size={16} anchor="left">fit</Txt>

      {/* legend, panel (a) 10 keV */}
      <div style={{ position: "absolute", left: 225, top: 357, width: 40, height: 3, background: UNPOL_COLOR }} />
      <Txt x={269} y={359} size={16} anchor="left">exp. unpol.</Txt>
      <div style={{ position: "absolute", left: 225, top: 378, width: 38, height: 1, background: "#000" }} />
      <Txt x={269} y={379} size={16} anchor="left">fit</Txt>
    </div>
  );
}
